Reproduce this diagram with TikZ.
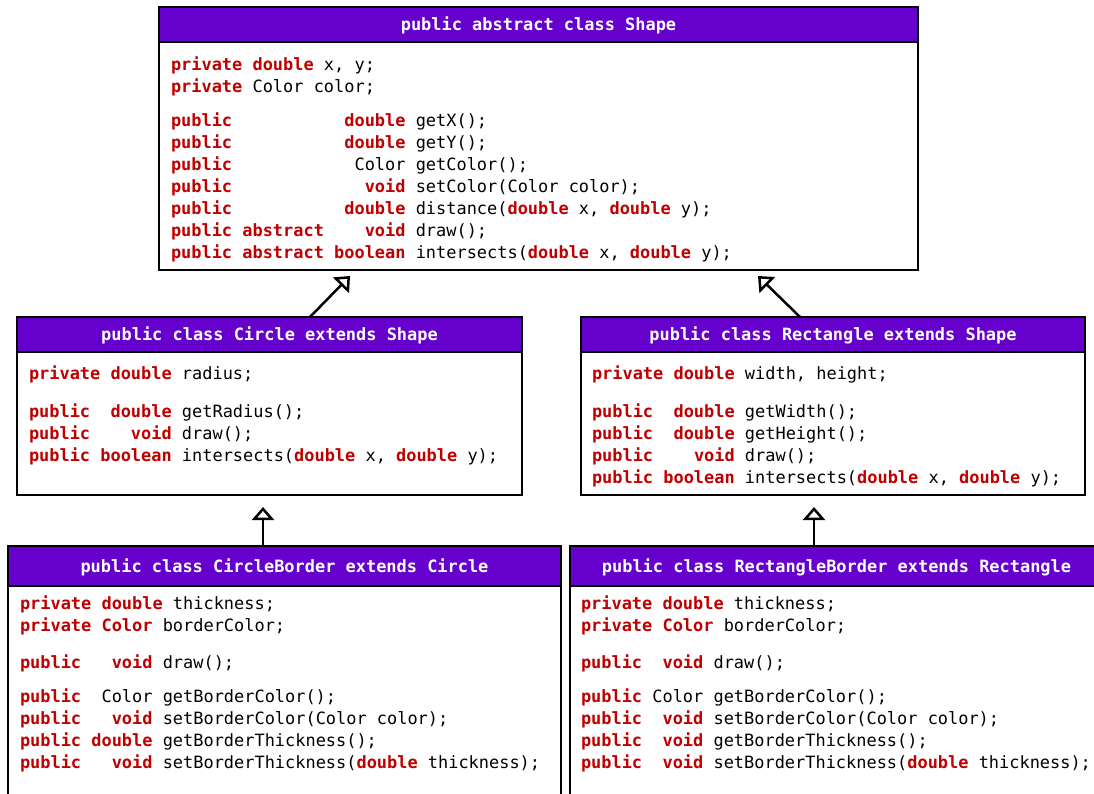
\documentclass[tikz,border=0pt]{standalone}
\usepackage{fontspec}
\usetikzlibrary{arrows.meta}
\newfontfamily\code{DejaVu Sans Mono}
\definecolor{hdrpurple}{HTML}{6600CC}
\definecolor{kwred}{HTML}{C00000}
\newlength\cw \setlength\cw{10.2pt}
\newcommand\kw[1]{\textcolor{kwred}{\bfseries #1}}
\newcommand\gap[1]{\hspace*{#1\cw}}
\newcommand\st{\rule{0pt}{16pt}}
\begin{document}
\begin{tikzpicture}[x=1pt,y=-1pt,
  classbox/.style={draw=black, line width=2.6pt, fill=white, rectangle, inner sep=0pt, outer sep=0pt, anchor=north west},
  hdr/.style={draw=black, line width=2.6pt, fill=hdrpurple, text=white, font=\code\bfseries\fontsize{16.94}{22}\selectfont, text height=13pt, text depth=1pt, anchor=north west, inner sep=0pt, outer sep=0pt},
  body/.style={anchor=north west, inner sep=0pt, outer sep=0pt, align=left, font=\code\fontsize{16.94}{22}\selectfont, text=black},
  inh/.style={draw=black, line width=2.5pt, -{Triangle[open,length=13pt,width=22pt]}}
]
\useasboundingbox (0,0) rectangle (1094,793);
\clip (0,0) rectangle (1094,793);
\fill[white] (0,0) rectangle (1094,793);

% Shape
\node[classbox, minimum width=759pt, minimum height=263pt] (shape) at (159,7) {};
\node[hdr, minimum width=759pt, minimum height=35pt] (shapeH) at (shape.north west) {public abstract class Shape};
\node[body] (shapeB) at (171,54) {\st\kw{private double} x, y;\\
\kw{private} Color color;\\[12pt]
\kw{public}\gap{11}\kw{double} getX();\\
\kw{public}\gap{11}\kw{double} getY();\\
\kw{public}\gap{12}Color getColor();\\
\kw{public}\gap{13}\kw{void} setColor(Color color);\\
\kw{public}\gap{11}\kw{double} distance(\kw{double} x, \kw{double} y);\\
\kw{public abstract}\gap{4}\kw{void} draw();\\
\kw{public abstract boolean} intersects(\kw{double} x, \kw{double} y);};

% Circle
\node[classbox, minimum width=505pt, minimum height=178pt] (circle) at (17,317) {};
\node[hdr, minimum width=505pt, minimum height=35pt] (circleH) at (circle.north west) {public class Circle extends Shape};
\node[body] (circleB) at (29,363) {\st\kw{private double} radius;\\[16pt]
\kw{public}\gap{2}\kw{double} getRadius();\\
\kw{public}\gap{4}\kw{void} draw();\\
\kw{public boolean} intersects(\kw{double} x, \kw{double} y);};

% Rectangle
\node[classbox, minimum width=504pt, minimum height=178pt] (rect) at (581,317) {};
\node[hdr, minimum width=504pt, minimum height=35pt] (rectH) at (rect.north west) {public class Rectangle extends Shape};
\node[body] (rectB) at (592,363) {\st\kw{private double} width, height;\\[16pt]
\kw{public}\gap{2}\kw{double} getWidth();\\
\kw{public}\gap{2}\kw{double} getHeight();\\
\kw{public}\gap{4}\kw{void} draw();\\
\kw{public boolean} intersects(\kw{double} x, \kw{double} y);};

% CircleBorder
\node[classbox, minimum width=553pt, minimum height=280pt] (cborder) at (8,546) {};
\node[hdr, minimum width=553pt, minimum height=40pt] (cborderH) at (cborder.north west) {public class CircleBorder extends Circle};
\node[body] (cborderB) at (20,593) {\st\kw{private double} thickness;\\
\kw{private Color} borderColor;\\[15pt]
\kw{public}\gap{3}\kw{void} draw();\\[12pt]
\kw{public}\gap{2}Color getBorderColor();\\
\kw{public}\gap{3}\kw{void} setBorderColor(Color color);\\
\kw{public double} getBorderThickness();\\
\kw{public}\gap{3}\kw{void} setBorderThickness(\kw{double} thickness);};

% RectangleBorder
\node[classbox, minimum width=533pt, minimum height=280pt] (rborder) at (570,546) {};
\node[hdr, minimum width=533pt, minimum height=40pt] (rborderH) at (rborder.north west) {public class RectangleBorder extends Rectangle};
\node[body] (rborderB) at (581,593) {\st\kw{private double} thickness;\\
\kw{private Color} borderColor;\\[15pt]
\kw{public}\gap{2}\kw{void} draw();\\[12pt]
\kw{public} Color getBorderColor();\\
\kw{public}\gap{2}\kw{void} setBorderColor(Color color);\\
\kw{public}\gap{2}\kw{void} getBorderThickness();\\
\kw{public}\gap{2}\kw{void} setBorderThickness(\kw{double} thickness);};

% inheritance arrows
\draw[inh] ([xshift=40.5pt]circle.north) -- ([xshift=-188.5pt,yshift=-6pt]shape.south);
\draw[inh] ([xshift=-33pt]rect.north) -- ([xshift=219.5pt,yshift=-6pt]shape.south);
\draw[inh] ([xshift=-21.5pt]cborder.north) -- ([xshift=-6.5pt,yshift=-12pt]circle.south);
\draw[inh] ([xshift=-22.5pt]rborder.north) -- ([xshift=-19pt,yshift=-12pt]rect.south);
\end{tikzpicture}
\end{document}
